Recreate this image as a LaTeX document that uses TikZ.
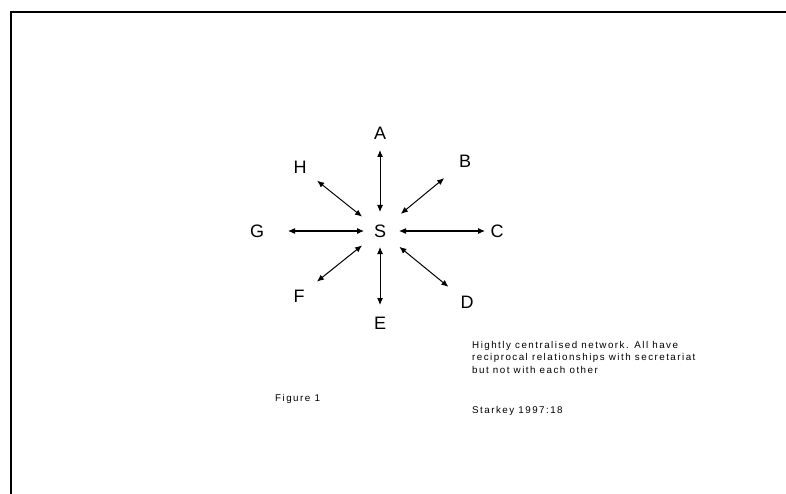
\documentclass[tikz,border=0pt]{standalone}
\usepackage{fontspec}
\setmainfont{Liberation Sans}
\newfontfamily\notefont[LetterSpace=15]{Liberation Sans}
\usetikzlibrary{arrows.meta}
\begin{document}
\begin{tikzpicture}[x=1pt,y=-1pt,
  member/.style={inner sep=0pt,font=\fontsize{18}{18}\selectfont},
  link/.style={line width=1pt,{Latex[length=7pt,width=6pt]}-{Latex[length=7pt,width=6pt]}},
  note/.style={inner sep=0pt,anchor=base west,align=left,
    font=\notefont\fontsize{9.8}{12.4}\selectfont}]
  \useasboundingbox (0,0) rectangle (786,494);
  % page frame (top and left edges only)
  \draw[line width=2pt] (786,12) -- (11,12) -- (11,494);
  % secretariat and members
  \node[member] (S) at (380,231) {S};
  \node[member] (A) at (380,133) {A};
  \node[member] (B) at (465,161) {B};
  \node[member] (C) at (497,231) {C};
  \node[member] (D) at (467,302) {D};
  \node[member] (E) at (380,323) {E};
  \node[member] (F) at (299,296) {F};
  \node[member] (G) at (257,231) {G};
  \node[member] (H) at (300,167) {H};
  % reciprocal links
  \draw[link,shorten <=19pt,shorten >=17pt] (S.center) -- (A.center);
  \draw[link,shorten <=27pt,shorten >=27pt] (S.center) -- (B.center);
  \draw[link,shorten <=19pt,shorten >=12pt] (S.center) -- (C.center);
  \draw[link,shorten <=25pt,shorten >=24pt] (S.center) -- (D.center);
  \draw[link,shorten <=16pt,shorten >=18pt] (S.center) -- (E.center);
  \draw[link,shorten <=23pt,shorten >=23pt] (S.center) -- (F.center);
  \draw[link,shorten <=16pt,shorten >=31pt] (S.center) -- (G.center);
  \draw[link,shorten <=23pt,shorten >=22pt] (S.center) -- (H.center);
  % captions
  \node[note,anchor=north west] (desc) at (472,341) {Hightly centralised network. All have\\reciprocal relationships with secretariat\\but not with each other};
  \node[note] (src) at (472,413) {Starkey 1997:18};
  \node[note] (fig) at (275,401) {Figure 1};
\end{tikzpicture}
\end{document}
